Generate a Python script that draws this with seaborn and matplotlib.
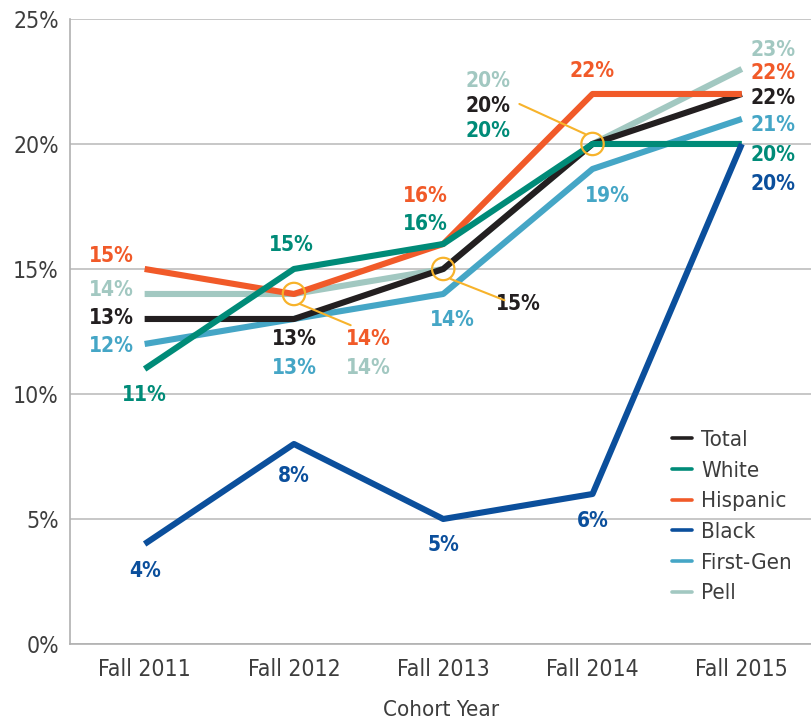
import matplotlib
matplotlib.use('Agg')
import matplotlib.pyplot as plt
import seaborn as sns
import pandas as pd
from matplotlib.lines import Line2D

years = ['Fall 2011', 'Fall 2012', 'Fall 2013', 'Fall 2014', 'Fall 2015']
groups = ['Total', 'White', 'Hispanic', 'Black', 'First-Gen', 'Pell']
total = [13, 13, 15, 20, 22]
white = [11, 15, 16, 20, 20]
hispanic = [15, 14, 16, 22, 22]
black = [4, 8, 5, 6, 20]
first_gen = [12, 13, 14, 19, 21]
pell = [14, 14, 15, 20, 23]

colors = {'Total': '#231f20', 'White': '#008b78', 'Hispanic': '#f15a29',
          'Black': '#0b4f9c', 'First-Gen': '#45a6c6', 'Pell': '#a2c8c1'}

series = {'Total': total, 'White': white, 'Hispanic': hispanic,
          'Black': black, 'First-Gen': first_gen, 'Pell': pell}
rows = []
for g in groups:
    for i, v in enumerate(series[g]):
        rows.append({'year': i, 'group': g, 'rate': v})
df = pd.DataFrame(rows)

# labels: (group, year index, text x offset, text y position)
labels = [
    ('Hispanic', 0, -0.22, 15.5), ('Pell', 0, -0.22, 14.15), ('Total', 0, -0.22, 13.05),
    ('First-Gen', 0, -0.22, 11.9), ('White', 0, 0.0, 9.95), ('Black', 0, 0.0, 2.9),
    ('White', 1, -0.02, 15.95), ('Total', 1, 0.0, 12.2), ('First-Gen', 1, 0.0, 11.05),
    ('Hispanic', 1, 0.5, 12.2), ('Pell', 1, 0.5, 11.05), ('Black', 1, 0.0, 6.7),
    ('Hispanic', 2, -0.12, 17.9), ('White', 2, -0.12, 16.8), ('Total', 2, 0.5, 13.6),
    ('First-Gen', 2, 0.06, 12.95), ('Black', 2, 0.0, 3.95),
    ('Pell', 3, -0.7, 22.5), ('Total', 3, -0.7, 21.5), ('White', 3, -0.7, 20.5),
    ('Hispanic', 3, 0.0, 22.9), ('First-Gen', 3, 0.1, 17.9), ('Black', 3, 0.0, 4.9),
    ('Pell', 4, 0.21, 23.75), ('Hispanic', 4, 0.21, 22.85), ('Total', 4, 0.21, 21.85),
    ('First-Gen', 4, 0.21, 20.75), ('White', 4, 0.21, 19.55), ('Black', 4, 0.21, 18.4),
]

sns.set_style('white')
plt.rcParams['font.family'] = ['DejaVu Sans']
plt.rcParams['font.stretch'] = 'condensed'

fig = plt.figure(figsize=(8.12, 7.24), dpi=100)
ax = fig.add_axes([0.0862, 0.1105, 0.9138, 0.8633])

draw_order = ['Pell', 'First-Gen', 'Total', 'Hispanic', 'White', 'Black']
for g in draw_order:
    sub = df[df['group'] == g]
    sns.lineplot(data=sub, x='year', y='rate', color=colors[g], linewidth=4.4,
                 ax=ax, sort=False, legend=False, solid_capstyle='butt')

for g, i, dx, ty in labels:
    ax.text(i + dx, ty, f'{series[g][i]}%', color=colors[g], fontsize=15,
            fontweight='bold', ha='center', va='center')

# highlight circles with leader lines
circ_color = '#f7b32b'
circ_pts = [(1, hispanic[1]), (2, total[2]), (3, total[3])]
ax.scatter([p[0] for p in circ_pts], [p[1] for p in circ_pts], s=260,
           facecolors='none', edgecolors=circ_color, linewidths=1.6, zorder=5)
ax.plot([1.04, 1.38], [13.6, 12.75], color=circ_color, lw=1.5, zorder=5)
ax.plot([2.05, 2.41], [14.6, 13.75], color=circ_color, lw=1.5, zorder=5)
ax.plot([2.95, 2.51], [20.4, 21.6], color=circ_color, lw=1.5, zorder=5)

ax.set_xlim(-0.5, 4.47)
ax.set_ylim(0, 25)
ax.set_yticks([0, 5, 10, 15, 20, 25])
ax.set_yticklabels([f'{t}%' for t in [0, 5, 10, 15, 20, 25]])
ax.set_xticks(range(5))
ax.set_xticklabels(years)
ax.set_xticks([0.5, 1.5, 2.5, 3.5], minor=True)
ax.tick_params(axis='x', which='major', length=0, labelsize=16.5, pad=10, colors='#3d3d3d')
ax.tick_params(axis='x', which='minor', direction='in', length=13, width=1, color='#b0b0b0')
ax.tick_params(axis='y', length=0, labelsize=16.5, pad=8, colors='#3d3d3d')
ax.grid(axis='y', color='#bdbdbd', linewidth=1.2)
ax.set_axisbelow(True)
for s in ['top', 'right']:
    ax.spines[s].set_visible(False)
for s in ['left', 'bottom']:
    ax.spines[s].set_color('#b0b0b0')
    ax.spines[s].set_linewidth(1.2)
ax.set_xlabel('Cohort Year', fontsize=16, color='#3d3d3d', labelpad=14)
ax.set_ylabel('')

handles = [Line2D([0], [0], color=colors[g], lw=2.6) for g in groups]
ax.legend(handles, groups, loc='lower right', bbox_to_anchor=(1.0, 0.033), frameon=False,
          fontsize=16, handlelength=0.9, handletextpad=0.4, labelspacing=0.48,
          labelcolor='#3d3d3d')

fig.savefig('out.png', dpi=100)
